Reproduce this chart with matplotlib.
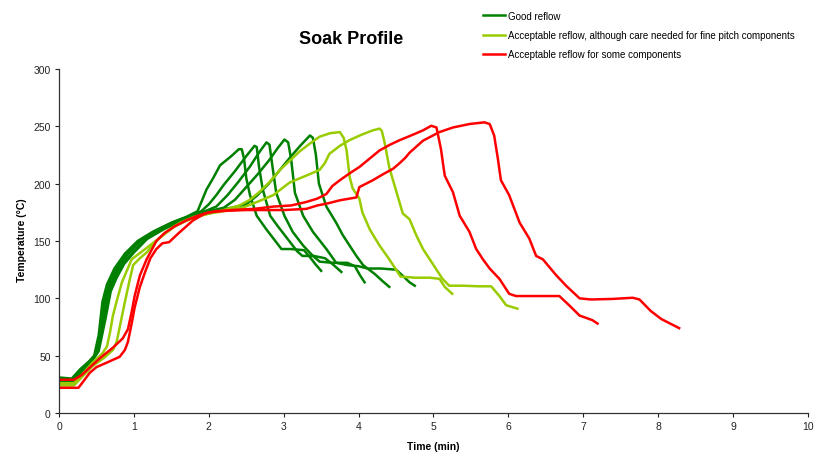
import matplotlib
matplotlib.use("Agg")
import matplotlib.pyplot as plt
from matplotlib.lines import Line2D

plt.rcParams["font.family"] = ["Liberation Sans", "DejaVu Sans"]

# --- data (time in min, temperature in degC) ---
good1_t = [0, 0.17, 0.28, 0.40, 0.47, 0.53, 0.58, 0.64, 0.74, 0.88, 1.05, 1.25, 1.50, 1.70, 1.85,
           1.97, 2.06, 2.15, 2.30, 2.40, 2.44, 2.47, 2.50, 2.55, 2.64, 2.77, 2.90, 2.97, 3.10, 3.27,
           3.35, 3.42, 3.50]
good1_T = [31, 30, 38, 45, 50, 68, 97, 112, 126, 139, 150, 158, 166, 171, 176,
           195, 205, 216, 224, 230, 230, 222, 205, 190, 172, 160, 149, 143, 143, 142,
           136, 130, 124]

good2_t = [0, 0.17, 0.28, 0.41, 0.49, 0.56, 0.61, 0.68, 0.78, 0.92, 1.10, 1.30, 1.55, 1.75, 1.90,
           2.00, 2.10, 2.20, 2.35, 2.50, 2.61, 2.64, 2.67, 2.72, 2.82, 2.92, 3.05, 3.18, 3.25,
           3.40, 3.55, 3.65, 3.77]
good2_T = [29, 28, 36, 45, 51, 72, 100, 114, 128, 140, 151, 159, 167, 172, 176,
           182, 190, 199, 211, 224, 233, 232, 215, 195, 172, 163, 152, 141, 137,
           137, 135, 130, 123]

good3_t = [0, 0.18, 0.29, 0.42, 0.50, 0.58, 0.63, 0.70, 0.80, 0.94, 1.12, 1.35, 1.60, 1.80, 1.95,
           2.10, 2.25, 2.40, 2.55, 2.68, 2.77, 2.81, 2.85, 2.90, 3.01, 3.12, 3.26, 3.39, 3.48,
           3.65, 3.85, 3.95, 4.02, 4.08]
good3_T = [27, 27, 36, 45, 52, 75, 100, 115, 128, 140, 152, 161, 168, 173, 176,
           180, 190, 202, 215, 228, 236, 234, 215, 192, 172, 158, 146, 137, 132,
           131, 131, 128, 120, 114]

good4_t = [0, 0.18, 0.29, 0.43, 0.51, 0.60, 0.66, 0.73, 0.83, 0.97, 1.15, 1.40, 1.65, 1.85, 2.00,
           2.20, 2.35, 2.50, 2.65, 2.80, 2.92, 3.01, 3.06, 3.10, 3.15, 3.26, 3.39, 3.57, 3.70,
           3.85, 4.00, 4.12, 4.22, 4.32, 4.41]
good4_T = [30, 29, 37, 46, 53, 80, 104, 116, 128, 139, 151, 161, 168, 174, 176,
           179, 186, 197, 208, 220, 231, 238.5, 236, 221, 192, 172, 158, 143, 131,
           129, 128, 126, 121, 115, 110]

good5_t = [0, 0.19, 0.30, 0.44, 0.53, 0.62, 0.69, 0.77, 0.87, 1.00, 1.18, 1.42, 1.68, 1.88, 2.05,
           2.30, 2.50, 2.65, 2.80, 2.95, 3.10, 3.22, 3.35, 3.39, 3.43, 3.47, 3.57, 3.70, 3.79,
           3.88, 3.97, 4.06, 4.12, 4.30, 4.50, 4.60, 4.68, 4.75]
good5_T = [26, 26, 35, 45, 54, 82, 106, 118, 130, 140, 152, 161, 169, 174, 176,
           179, 182, 190, 200, 212, 224, 233, 242, 240, 225, 200, 180, 166, 155,
           146, 137, 129, 126, 126, 125, 119, 114, 111]

fine1_t = [0, 0.2, 0.3, 0.45, 0.58, 0.64, 0.68, 0.72, 0.78, 0.84, 0.97, 1.17, 1.35, 1.55, 1.75,
           1.95, 2.2, 2.41, 2.55, 2.68, 2.82, 2.95, 3.08, 3.21, 3.35, 3.48, 3.62, 3.75, 3.80,
           3.84, 3.88, 3.92, 4.01, 4.05, 4.15, 4.28, 4.41, 4.50, 4.56, 4.75, 4.95, 5.08, 5.15,
           5.25]
fine1_T = [26, 26, 33, 44, 52, 58, 70, 85, 100, 114, 134, 144, 153, 163, 169,
           173, 177, 181, 186, 193, 202, 212, 220, 228, 235, 241, 244, 245, 240,
           229, 206, 196, 187, 175, 160, 146, 134, 125, 119, 118, 118, 117, 110,
           104]

fine2_t = [0, 0.2, 0.3, 0.45, 0.6, 0.72, 0.77, 0.82, 0.88, 0.94, 0.99, 1.08, 1.17, 1.30, 1.45,
           1.62, 1.8, 2.0, 2.2, 2.45, 2.68, 2.86, 3.08, 3.30, 3.48, 3.55, 3.61, 3.75, 3.88,
           4.05, 4.19, 4.28, 4.31, 4.35, 4.41, 4.50, 4.59, 4.68, 4.77, 4.86, 4.99, 5.12, 5.21,
           5.40, 5.60, 5.77, 5.88, 5.97, 6.12]
fine2_T = [24, 24, 31, 41, 48, 55, 62, 78, 97, 115, 129, 135, 140, 150, 159,
           166, 171, 174, 176, 179, 185, 190, 201, 207, 212, 218, 226, 233, 238,
           243, 246.5, 248, 246, 235, 214, 194, 174, 169, 155, 143, 130, 117, 111,
           111, 110.5, 110.5, 102, 94, 91]

some1_t = [0, 0.2, 0.3, 0.45, 0.55, 0.72, 0.85, 0.92, 0.97, 1.01, 1.08, 1.17, 1.3, 1.41, 1.55,
           1.7, 1.85, 2.0, 2.3, 2.6, 2.86, 3.1, 3.30, 3.45, 3.57, 3.65, 3.75, 3.88, 4.01,
           4.15, 4.28, 4.42, 4.55, 4.70, 4.86, 4.97, 5.04, 5.10, 5.15, 5.26, 5.35, 5.48, 5.57,
           5.66, 5.75, 5.88, 6.01, 6.10, 6.30, 6.50, 6.68, 6.81, 6.95, 7.12, 7.19]
some1_T = [29, 29, 33, 42, 48, 57, 65, 73, 88, 102, 120, 134, 150, 157, 163,
           168, 172, 175, 177, 178, 180, 181, 184, 187, 191, 198, 203, 209, 214.5,
           222, 229, 234, 238, 242, 246.5, 250.5, 249, 230, 207, 192.5, 172, 158, 143,
           134, 126, 117, 104, 102, 102, 102, 102, 94, 85, 81, 78]

some2_t = [0, 0.26, 0.33, 0.41, 0.5, 0.64, 0.81, 0.88, 0.92, 0.97, 1.01, 1.08, 1.15, 1.22, 1.30,
           1.38, 1.47, 1.6, 1.79, 1.95, 2.1, 2.5, 3.0, 3.3, 3.45, 3.6, 3.75, 3.97, 4.01,
           4.10, 4.19, 4.32, 4.46, 4.55, 4.63, 4.68, 4.86, 5.08, 5.26, 5.48, 5.68, 5.75, 5.81,
           5.86, 5.90, 6.01, 6.15, 6.28, 6.37, 6.46, 6.64, 6.77, 6.95, 7.1, 7.4, 7.66, 7.75,
           7.90, 8.04, 8.28]
some2_T = [22, 22, 28, 35, 40, 44, 49, 55, 62, 78, 92, 110, 123, 135, 143,
           148, 149, 157, 168, 174, 176, 177, 177, 178, 181, 183, 185.5, 188, 197,
           200, 203, 208, 213, 218, 223, 227, 237.5, 245, 249, 252, 253.5, 252, 242,
           221.5, 203, 190, 166, 152, 137, 134, 120, 111, 100, 99, 99.5, 100.5, 99,
           89, 82, 74]

x_ticks = [0, 1, 2, 3, 4, 5, 6, 7, 8, 9, 10]
y_ticks = [0, 50, 100, 150, 200, 250, 300]

labels = ["Good reflow",
          "Acceptable reflow, although care needed for fine pitch components",
          "Acceptable reflow for some components"]
colors = ["#008000", "#99CC00", "#FF0000"]

groups = [
    [(good1_t, good1_T), (good2_t, good2_T), (good3_t, good3_T),
     (good4_t, good4_T), (good5_t, good5_T)],
    [(fine1_t, fine1_T), (fine2_t, fine2_T)],
    [(some1_t, some1_T), (some2_t, some2_T)],
]

# --- plot ---
fig = plt.figure(figsize=(8.16, 4.56), dpi=100)
ax = fig.add_axes([59 / 816, 1 - 414 / 456, 749 / 816, 344 / 456])

for color, curves in zip(colors, groups):
    for t, temp in curves:
        ax.plot(t, temp, color=color, linewidth=1.8, solid_joinstyle="round")

ax.set_xlim(0, 10)
ax.set_ylim(0, 300)
ax.set_xticks(x_ticks)
ax.set_yticks(y_ticks)
ax.tick_params(labelsize=7.5, length=3, width=0.8, colors="#222222", pad=3)
for side in ["top", "right"]:
    ax.spines[side].set_visible(False)
for side in ["left", "bottom"]:
    ax.spines[side].set_linewidth(0.9)
    ax.spines[side].set_color("#333333")

ax.set_xlabel("Time (min)", fontsize=7.5, fontweight="bold")
ax.set_ylabel("Temperature (°C)", fontsize=7.5, fontweight="bold")
ax.xaxis.set_label_coords(0.5, -0.082)
ax.yaxis.set_label_coords(-0.043, 0.506)

fig.text(351 / 816, 1 - 40 / 456, "Soak Profile", ha="center", va="center",
         fontsize=13, fontweight="bold")

handles = [Line2D([], [], color=c, linewidth=1.8) for c in colors]
fig.legend(handles, labels, loc="upper left", bbox_to_anchor=(479 / 816, 1 - 8 / 456),
           frameon=False, fontsize=7, handlelength=2.3, handletextpad=0.3,
           labelspacing=0.95, borderaxespad=0)

fig.savefig("out.png", dpi=100)
